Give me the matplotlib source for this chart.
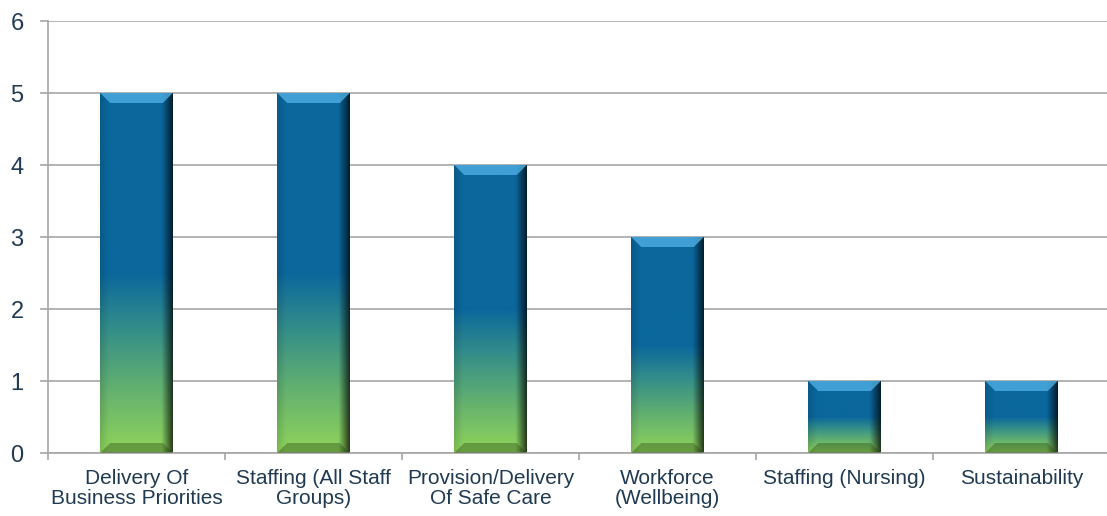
import numpy as np
import matplotlib.pyplot as plt
from matplotlib.colors import LinearSegmentedColormap
from matplotlib.patches import Polygon

categories = ['Delivery Of\nBusiness Priorities', 'Staffing (All Staff\nGroups)',
              'Provision/Delivery\nOf Safe Care', 'Workforce\n(Wellbeing)',
              'Staffing (Nursing)', 'Sustainability']
counts = [5, 5, 4, 3, 1, 1]

plt.rcParams['font.family'] = ['Liberation Sans', 'DejaVu Sans']
text_color = '#203a53'
grid_color = '#a6a6a6'

# blue on top fading into green at the base, relative to each bar
cmap = LinearSegmentedColormap.from_list(
    'bar', [(0.0, '#90d45a'), (0.18, '#62b070'), (0.36, '#2f8a8c'),
            (0.5, '#0b679c'), (1.0, '#0b679c')])

fig = plt.figure(figsize=(11.07, 5.16), dpi=100)
ax = fig.add_axes([48 / 1107, 63 / 516, 1062 / 1107, 432 / 516])

ax.set_xlim(-0.5, len(categories) - 0.5)
ax.set_ylim(0, 6)
ax.set_yticks(range(7))
ax.yaxis.grid(True, color=grid_color, linewidth=1.2)
ax.set_axisbelow(True)
for s in ['top', 'right']:
    ax.spines[s].set_visible(False)
for s in ['left', 'bottom']:
    ax.spines[s].set_color(grid_color)
    ax.spines[s].set_linewidth(1.2)

ax.set_xticks(np.arange(len(categories)))
ax.set_xticklabels(categories, fontsize=15, color=text_color, linespacing=1.08)
ax.tick_params(axis='x', length=0, pad=11.5)
ax.set_xticks(np.arange(len(categories) + 1) - 0.5, minor=True)
ax.tick_params(axis='x', which='minor', length=5, color=grid_color, width=1.2)
ax.tick_params(axis='y', length=5.5, color=grid_color, width=1.2,
               labelsize=17, labelcolor=text_color, pad=12)

width = 0.41
grad = np.linspace(0, 1, 256).reshape(-1, 1)
bx = 10 / 177   # bevel size in data units
by = 10 / 72

# darkening across the bar width, strongest at the right edge
shade = np.zeros((1, 64, 4))
xs = np.linspace(0, 1, 64)
shade[0, :, 3] = np.clip(0.12 * (1 - xs / 0.12), 0, None) + \
    np.clip(0.7 * (xs - 0.85) / 0.15, 0, None)

for i, v in enumerate(counts):
    x0, x1 = i - width / 2, i + width / 2
    ax.imshow(grad, extent=(x0, x1, 0, v), origin='lower', cmap=cmap,
              aspect='auto', zorder=2, interpolation='bicubic')
    ax.imshow(shade, extent=(x0, x1, 0, v), aspect='auto', zorder=2.5,
              interpolation='bilinear')
    # bevel faces
    top = [(x0, v), (x1, v), (x1 - bx, v - by), (x0 + bx, v - by)]
    bottom = [(x0, 0), (x0 + bx, by), (x1 - bx, by), (x1, 0)]
    ax.add_patch(Polygon(top, closed=True, facecolor='#4eaee3', alpha=0.8,
                         edgecolor='none', zorder=3))
    ax.add_patch(Polygon(bottom, closed=True, facecolor='#1e3a10', alpha=0.35,
                         edgecolor='none', zorder=3))

fig.savefig('out.png', dpi=100)
